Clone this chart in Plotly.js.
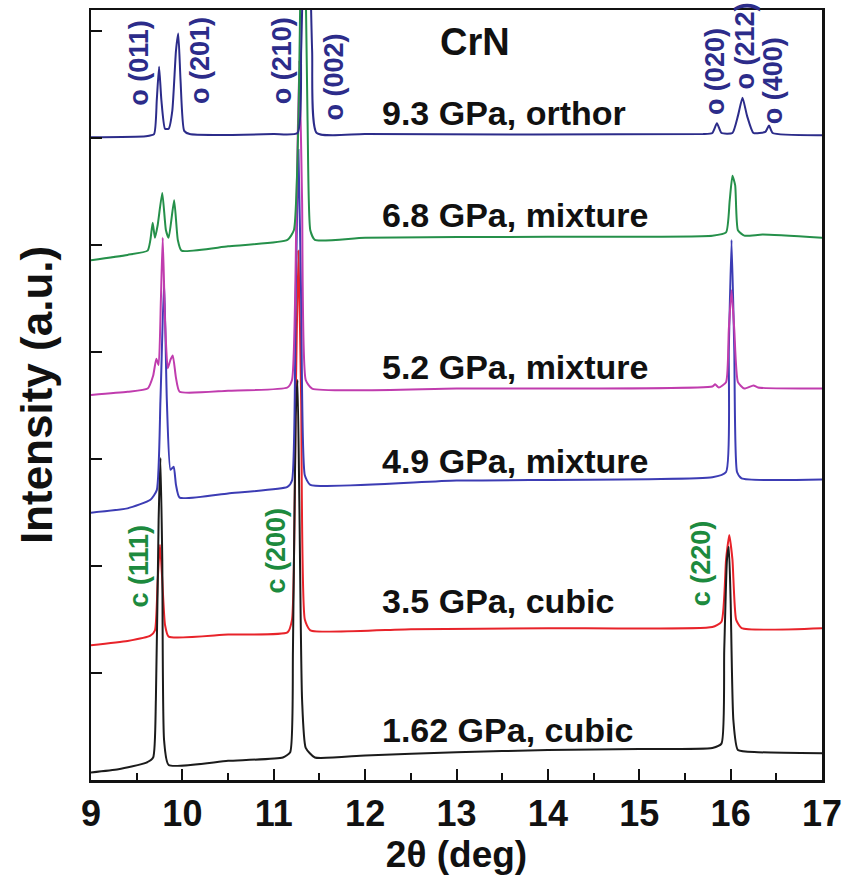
<!DOCTYPE html>
<html>
<head>
<meta charset="utf-8">
<script src="https://cdn.plot.ly/plotly-3.0.1.min.js"></script>
<style>html,body{margin:0;padding:0;background:#fff}#chart{width:846px;height:881px}</style>
</head>
<body>
<div id="chart"></div>
<script>
// 2theta (deg) and stacked intensity (a.u., offset included)
const x162 = [9.00,9.30,9.60,9.68,9.71,9.74,9.76,9.78,9.80,9.85,10.5,11.10,11.18,11.21,11.24,11.26,11.28,11.31,11.35,11.45,12.0,13.0,14.0,15.0,15.80,15.90,15.93,15.96,15.98,16.00,16.03,16.08,16.30,17.00];
const y162 = [0.07,0.10,0.16,0.21,0.75,2.43,3.01,2.06,0.37,0.14,0.18,0.21,0.26,1.21,3.40,3.74,2.60,0.75,0.30,0.21,0.23,0.26,0.28,0.29,0.30,0.34,1.21,2.06,2.18,1.68,0.56,0.28,0.26,0.25];

const x35 = [9.00,9.40,9.65,9.70,9.73,9.755,9.78,9.81,9.85,10.5,11.15,11.20,11.24,11.27,11.30,11.34,11.40,12.5,14.0,15.80,15.90,15.95,15.985,16.02,16.06,16.12,17.00];
const y35 = [1.26,1.30,1.35,1.40,1.87,2.20,1.87,1.45,1.34,1.36,1.38,1.50,3.55,4.95,3.55,1.50,1.40,1.41,1.42,1.43,1.48,2.06,2.29,2.06,1.50,1.42,1.42];

const x49 = [9.00,9.40,9.65,9.72,9.76,9.80,9.83,9.87,9.905,9.93,9.97,10.5,11.15,11.20,11.24,11.27,11.30,11.34,11.40,13.0,15.80,15.95,15.98,16.01,16.04,16.07,16.12,17.00];
const y49 = [2.50,2.54,2.62,2.71,3.55,4.67,3.55,2.90,2.93,2.76,2.64,2.68,2.74,2.80,4.49,5.89,4.49,2.85,2.76,2.80,2.83,2.88,4.02,5.05,4.02,2.88,2.82,2.81];

const x52 = [9.00,9.40,9.62,9.68,9.715,9.74,9.765,9.785,9.81,9.84,9.87,9.895,9.93,9.97,10.5,11.15,11.20,11.25,11.28,11.31,11.35,11.42,13.0,15.80,15.83,15.87,15.95,15.98,16.01,16.04,16.08,16.15,16.25,16.30,17.00];
const y52 = [3.60,3.63,3.66,3.78,3.94,3.88,4.49,5.07,4.30,3.85,3.93,3.97,3.76,3.63,3.64,3.67,3.74,5.42,6.73,5.42,3.74,3.66,3.66,3.68,3.70,3.67,3.72,4.21,4.58,4.21,3.72,3.66,3.69,3.67,3.66];

const x68 = [9.00,9.40,9.62,9.65,9.675,9.70,9.73,9.78,9.82,9.85,9.91,9.95,9.99,10.5,11.15,11.22,11.27,11.32,11.37,11.40,11.45,12.0,14.0,15.80,15.95,15.99,16.02,16.05,16.08,16.15,16.35,17.00];
const y68 = [4.86,4.91,4.95,5.05,5.21,5.07,5.19,5.49,5.14,5.07,5.42,5.05,4.95,4.99,5.05,5.14,6.17,9.00,6.17,5.14,5.05,5.07,5.08,5.09,5.12,5.42,5.65,5.56,5.14,5.09,5.10,5.07];

const x93 = [9.00,9.60,9.69,9.72,9.745,9.77,9.81,9.85,9.89,9.93,9.955,9.98,10.02,10.08,11.00,11.26,11.30,11.36,11.42,11.47,12.0,15.70,15.80,15.85,15.90,16.02,16.08,16.13,16.18,16.25,16.38,16.42,16.46,17.00];
const y93 = [6.01,6.02,6.04,6.36,6.67,6.36,6.09,6.09,6.26,6.82,6.98,6.54,6.07,6.04,6.04,6.05,6.82,9.00,6.82,6.05,6.04,6.04,6.05,6.14,6.05,6.05,6.21,6.38,6.21,6.05,6.06,6.12,6.05,6.03];

const seriesNames = ["1.62 GPa, cubic","3.5 GPa, cubic","4.9 GPa, mixture","5.2 GPa, mixture","6.8 GPa, mixture","9.3 GPa, orthor"];
const seriesColors = ["#1b1b1b","#e8232a","#3c3cb4","#c03cae","#25904a","#2c2c8a"];

// reflection labels: [text, 2theta, y]
const orthoLabels = [["o (011)",9.53,6.71],["o (201)",10.20,6.73],["o (210)",11.09,6.73],["o (002)",11.66,6.57],["o (020)",15.83,6.62],["o (212)",16.16,6.86],["o (400)",16.46,6.54]];
const cubicLabels = [["c (111)",9.53,2.00],["c (200)",11.03,2.15],["c (220)",15.68,2.03]];
// series text labels: [2theta, y]
const seriesLabelPos = [[12.16,0.47],[12.16,1.67],[12.16,2.98],[12.16,3.86],[12.16,5.28],[12.16,6.24]];

const xs = [x162,x35,x49,x52,x68,x93];
const ys = [y162,y35,y49,y52,y68,y93];
const order = [1,0,2,3,4,5];
const traces = order.map(i => ({
  x: xs[i], y: ys[i], type: "scatter", mode: "lines", name: seriesNames[i],
  line: {color: seriesColors[i], width: 2, shape: "spline", smoothing: 0.5}, hoverinfo: "skip"
}));

const FONT = "Liberation Sans, Arial, sans-serif";
const ann = [];
seriesNames.forEach((n, i) => ann.push({
  text: n, x: seriesLabelPos[i][0], y: seriesLabelPos[i][1], xref: "x", yref: "y",
  xanchor: "left", yanchor: "middle", showarrow: false,
  font: {family: FONT, size: 34, color: "#111", weight: "bold"}
}));
orthoLabels.forEach(l => ann.push({
  text: l[0], x: l[1], y: l[2], xref: "x", yref: "y", textangle: -90,
  xanchor: "center", yanchor: "middle", showarrow: false,
  font: {family: FONT, size: 27, color: "#2c2c8a", weight: "bold"}
}));
cubicLabels.forEach(l => ann.push({
  text: l[0], x: l[1], y: l[2], xref: "x", yref: "y", textangle: -90,
  xanchor: "center", yanchor: "middle", showarrow: false,
  font: {family: FONT, size: 27, color: "#1d8a3e", weight: "bold"}
}));
ann.push({text: "CrN", x: 13.2, y: 6.9, xref: "x", yref: "y", showarrow: false,
  xanchor: "center", yanchor: "middle", font: {family: FONT, size: 38, color: "#111", weight: "bold"}});

const layout = {
  width: 846, height: 881,
  margin: {l: 91, r: 24, t: 10, b: 101},
  paper_bgcolor: "#fff", plot_bgcolor: "#fff",
  showlegend: false,
  font: {family: FONT, color: "#111"},
  xaxis: {
    range: [9, 17], tickmode: "linear", tick0: 9, dtick: 1,
    ticks: "inside", ticklen: 11, tickwidth: 2, tickcolor: "#111",
    minor: {dtick: 0.5, ticks: "inside", ticklen: 7, tickwidth: 2, tickcolor: "#111"},
    showline: true, linewidth: 2.5, linecolor: "#111", mirror: true,
    showgrid: false, zeroline: false,
    tickfont: {family: FONT, size: 36, color: "#111", weight: "bold"},
    ticklabelstandoff: 0,
    title: {text: "2θ (deg)", font: {family: FONT, size: 37, color: "#111", weight: "bold"}, standoff: 2}
  },
  yaxis: {
    range: [0, 7.2], tickmode: "linear", tick0: 0, dtick: 1, showticklabels: false,
    ticks: "inside", ticklen: 11, tickwidth: 2, tickcolor: "#111",
    showline: true, linewidth: 2.5, linecolor: "#111", mirror: true,
    showgrid: false, zeroline: false,
    title: {text: "Intensity (a.u.)", font: {family: FONT, size: 44, color: "#111", weight: "bold"}, standoff: 22}
  },
  annotations: ann
};
Plotly.newPlot("chart", traces, layout, {staticPlot: true, displayModeBar: false});
</script>
</body>
</html>
